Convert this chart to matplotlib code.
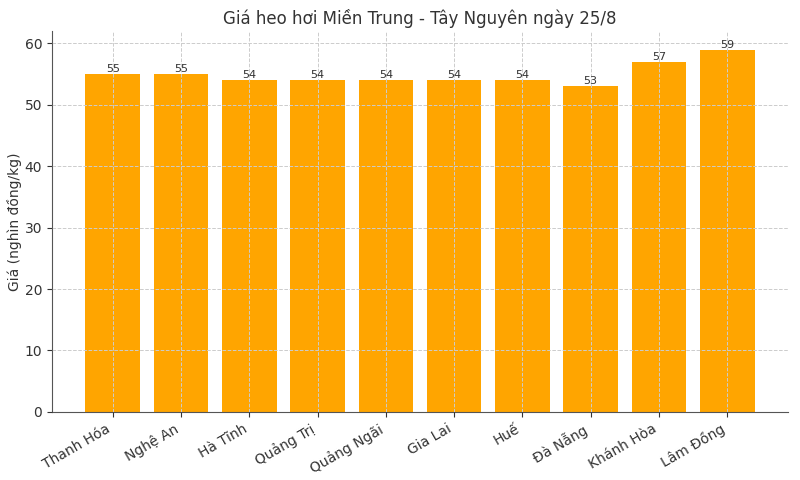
import numpy as np
import matplotlib.pyplot as plt

provinces = ['Thanh Hóa', 'Nghệ An', 'Hà Tĩnh', 'Quảng Trị', 'Quảng Ngãi',
             'Gia Lai', 'Huế', 'Đà Nẵng', 'Khánh Hòa', 'Lâm Đồng']
prices = [55, 55, 54, 54, 54, 54, 54, 53, 57, 59]

plt.rcParams['text.color'] = '#333333'
plt.rcParams['axes.labelcolor'] = '#333333'
plt.rcParams['xtick.color'] = '#333333'
plt.rcParams['ytick.color'] = '#333333'

fig, ax = plt.subplots(figsize=(8, 4.8), dpi=100)
bars = ax.bar(provinces, prices, color='orange', zorder=1)
for b, v in zip(bars, prices):
    ax.text(b.get_x() + b.get_width() / 2, v, str(v), ha='center', va='bottom',
            fontsize=8, color='#333333')

ax.set_title('Giá heo hơi Miền Trung - Tây Nguyên ngày 25/8', fontsize=12, pad=5)
ax.set_ylabel('Giá (nghìn đồng/kg)', fontsize=10, labelpad=2)
ax.set_ylim(0, 62)
ax.grid(True, linestyle='--', color='#cccccc', linewidth=0.7, zorder=2)
ax.set_axisbelow(False)
for s in ['top', 'right']:
    ax.spines[s].set_visible(False)
ax.spines['left'].set_color('#555555')
ax.spines['bottom'].set_color('#555555')
plt.xticks(rotation=30, ha='right', fontsize=10)
plt.yticks(fontsize=10)
plt.subplots_adjust(left=0.065, right=0.985, top=0.935, bottom=0.142)
plt.savefig('out.png')
